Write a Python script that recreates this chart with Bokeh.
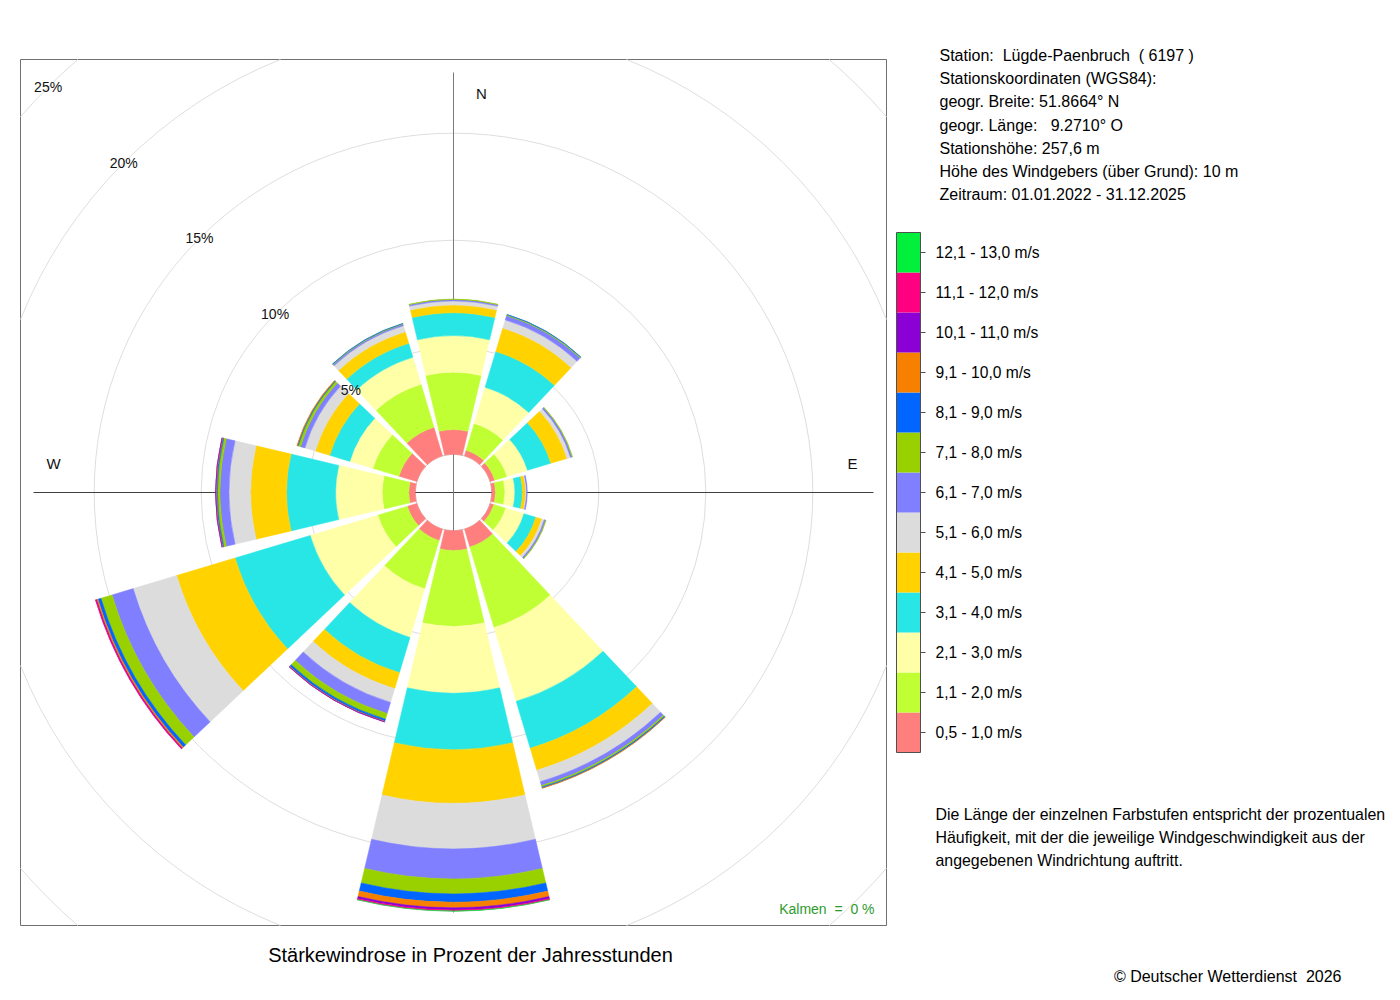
import math
from bokeh.plotting import figure
from bokeh.models import Range1d, ColumnDataSource
from bokeh.core.properties import value
from bokeh.embed import file_html
from bokeh.resources import INLINE

# ---------------- data ----------------
directions = [0, 30, 60, 90, 120, 150, 180, 210, 240, 270, 300, 330]
speed_labels = ["0,5 - 1,0 m/s", "1,1 - 2,0 m/s", "2,1 - 3,0 m/s", "3,1 - 4,0 m/s",
                "4,1 - 5,0 m/s", "5,1 - 6,0 m/s", "6,1 - 7,0 m/s", "7,1 - 8,0 m/s",
                "8,1 - 9,0 m/s", "9,1 - 10,0 m/s", "10,1 - 11,0 m/s", "11,1 - 12,0 m/s",
                "12,1 - 13,0 m/s"]
speed_colors = ["#FF7F7F", "#BFFF33", "#FFFFA8", "#29E6E6", "#FFD200", "#DCDCDC",
                "#7F7FFF", "#99D100", "#0066FF", "#F78000", "#8B00D4", "#FF0080", "#00F03C"]

# percent of hours per direction (0, 30, ..., 330 deg) for each speed class
s_0_5_1_0 = [1.15, 0.27, 0.22, 0.17, 0.18, 0.87, 0.92, 0.55, 0.46, 0.30, 0.87, 1.39]
s_1_1_2_0 = [2.68, 1.31, 0.60, 0.44, 0.58, 3.93, 3.55, 2.36, 1.44, 1.24, 1.27, 2.10]
s_2_1_3_0 = [1.71, 1.76, 1.00, 0.47, 0.89, 3.60, 3.12, 2.37, 3.30, 2.18, 1.13, 1.32]
s_3_1_4_0 = [1.07, 1.75, 1.14, 0.35, 0.58, 2.29, 2.64, 1.72, 3.67, 2.29, 0.98, 0.68]
s_4_1_5_0 = [0.36, 1.14, 0.79, 0.15, 0.29, 1.07, 2.50, 0.78, 2.85, 1.68, 0.70, 0.56]
s_5_1_6_0 = [0.19, 0.40, 0.17, 0.04, 0.12, 0.56, 2.13, 0.67, 2.12, 1.01, 0.51, 0.30]
s_6_1_7_0 = [0.07, 0.21, 0.08, 0.04, 0.07, 0.19, 1.40, 0.54, 1.03, 0.42, 0.21, 0.07]
s_7_1_8_0 = [0.02, 0.05, 0.02, 0.00, 0.02, 0.07, 0.70, 0.28, 0.54, 0.12, 0.12, 0.03]
s_8_1_9_0 = [0.00, 0.01, 0.00, 0.00, 0.00, 0.05, 0.39, 0.10, 0.15, 0.05, 0.04, 0.01]
s_9_1_10_0 = [0.00, 0.00, 0.00, 0.00, 0.00, 0.01, 0.26, 0.03, 0.07, 0.03, 0.02, 0.00]
s_10_1_11_0 = [0.00, 0.00, 0.00, 0.00, 0.00, 0.00, 0.10, 0.01, 0.03, 0.01, 0.00, 0.00]
s_11_1_12_0 = [0.00, 0.00, 0.00, 0.00, 0.00, 0.00, 0.05, 0.00, 0.02, 0.00, 0.00, 0.00]
s_12_1_13_0 = [0.00, 0.00, 0.00, 0.00, 0.00, 0.00, 0.01, 0.00, 0.00, 0.00, 0.00, 0.00]
speed_series = [s_0_5_1_0, s_1_1_2_0, s_2_1_3_0, s_3_1_4_0, s_4_1_5_0, s_5_1_6_0, s_6_1_7_0,
                s_7_1_8_0, s_8_1_9_0, s_9_1_10_0, s_10_1_11_0, s_11_1_12_0, s_12_1_13_0]

ring_values = [5, 10, 15, 20, 25]
compass_labels = ["N", "E", "W"]

NB = "\u00a0"
info_lines = ["Station:" + NB + " Lügde-Paenbruch " + NB + "( 6197 )",
              "Stationskoordinaten (WGS84):",
              "geogr. Breite: 51.8664° N",
              "geogr. Länge:" + NB + NB + " 9.2710° O",
              "Stationshöhe: 257,6 m",
              "Höhe des Windgebers (über Grund): 10 m",
              "Zeitraum: 01.01.2022 - 31.12.2025"]
note_lines = ["Die Länge der einzelnen Farbstufen entspricht der prozentualen",
              "Häufigkeit, mit der die jeweilige Windgeschwindigkeit aus der",
              "angegebenen Windrichtung auftritt."]
title_text = "Stärkewindrose in Prozent der Jahresstunden"
calm_text = "Kalmen" + NB + " =" + NB + " 0 %"
copyright_text = "© Deutscher Wetterdienst" + NB + " 2026"

# ---------------- layout constants ----------------
PX = 21.4            # pixels per percent
CX, CY = 453, 492    # rose centre on the page
R0 = 38.3 / PX       # radius of the calm hole (percent units)
HALF = 13.3          # half angular width of a sector (deg)
FONT = value("Liberation Sans")
W, H = 1392, 992


def ux(px):
    return (px - CX) / PX


def uy(py):
    return (CY - py) / PX


p = figure(width=W, height=H, x_range=Range1d(ux(0), ux(W)),
           y_range=Range1d(uy(H), uy(0)), output_backend="svg",
           toolbar_location=None, x_axis_location=None, y_axis_location=None,
           min_border=0)
p.grid.visible = False
p.outline_line_color = None

# frame
half = 433 / PX
p.rect(x=[0], y=[0], width=[2 * half], height=[2 * half], fill_color=None,
       line_color="#707070", line_width=1)

# grid rings
grid_col = "#DEDEDE"
for v in ring_values:
    R = R0 + v
    if R <= half:
        p.circle(x=[0], y=[0], radius=[R], fill_color=None, line_color=grid_col, line_width=1)
    else:
        a = math.acos(half / R)
        b = math.asin(half / R)
        for q in range(4):
            p.arc(x=[0], y=[0], radius=[R], start_angle=[q * math.pi / 2 + a],
                  end_angle=[q * math.pi / 2 + b], line_color=grid_col, line_width=1)

# hole outline
p.circle(x=[0], y=[0], radius=[R0], fill_color="white", line_color="#C8C8C8", line_width=1)

# cross lines
L = 420 / PX
p.segment(x0=[-L], y0=[0], x1=[L], y1=[0], line_color="#404040", line_width=1)
p.segment(x0=[0], y0=[-L], x1=[0], y1=[L], line_color="#7A7A7A", line_width=1)

# wedges
rows = dict(inner=[], outer=[], start=[], end=[], color=[])
for j, d in enumerate(directions):
    cum = 0.0
    for k, series in enumerate(speed_series):
        val = series[j]
        if val <= 0:
            continue
        rows["inner"].append(R0 + cum)
        cum += val
        rows["outer"].append(R0 + cum)
        m = 90 - d
        rows["start"].append(math.radians(m - HALF))
        rows["end"].append(math.radians(m + HALF))
        rows["color"].append(speed_colors[k])
src = ColumnDataSource(rows)
p.annular_wedge(x=0, y=0, inner_radius="inner", outer_radius="outer",
                start_angle="start", end_angle="end", fill_color="color",
                line_color="color", line_width=0.5, source=src)

# ring labels along 315 deg
lab_r = [R0 + v for v in ring_values]
p.text(x=[-r * math.sqrt(0.5) for r in lab_r], y=[r * math.sqrt(0.5) for r in lab_r],
       text=[f"{v}%" for v in ring_values], text_align="center", text_baseline="middle",
       text_font=FONT, text_font_size="14px", text_color="#111111")

# compass labels
p.text(x=[ux(481), ux(852), ux(53)], y=[uy(93), uy(463), uy(463)], text=compass_labels,
       text_align="center", text_baseline="middle", text_font=FONT,
       text_font_size="15px", text_color="#111111")

# calm
p.text(x=[ux(874)], y=[uy(908)], text=[calm_text], text_align="right",
       text_baseline="middle", text_font=FONT, text_font_size="14px", text_color="#2E9B2E")

# title
p.text(x=[ux(470)], y=[uy(954)], text=[title_text], text_align="center",
       text_baseline="middle", text_font=FONT, text_font_size="20px", text_color="#000000")

# station info
p.text(x=[ux(939)] * len(info_lines), y=[uy(55 + 23.2 * i) for i in range(len(info_lines))],
       text=info_lines, text_align="left", text_baseline="middle", text_font=FONT,
       text_font_size="16px", text_color="#000000")

# explanatory note
p.text(x=[ux(935)] * len(note_lines), y=[uy(814 + 23 * i) for i in range(len(note_lines))],
       text=note_lines, text_align="left", text_baseline="middle", text_font=FONT,
       text_font_size="15.9px", text_color="#000000")

# copyright
p.text(x=[ux(1341)], y=[uy(976)], text=[copyright_text], text_align="right",
       text_baseline="middle", text_font=FONT, text_font_size="16px", text_color="#000000")

# colour legend
n = len(speed_labels)
ys = [uy(732 - 40 * i) for i in range(n)]
p.rect(x=[ux(908)] * n, y=ys, width=[24 / PX] * n, height=[40 / PX] * n,
       fill_color=speed_colors, line_color=None)
p.rect(x=[ux(908)], y=[uy(492)], width=[24 / PX], height=[520 / PX], fill_color=None,
       line_color="#505050", line_width=1)
p.segment(x0=[ux(920)] * n, y0=ys, x1=[ux(925)] * n, y1=ys, line_color="#505050", line_width=1)
p.text(x=[ux(935)] * n, y=ys, text=speed_labels, text_align="left", text_baseline="middle",
       text_font=FONT, text_font_size="15.6px", text_color="#000000")

open("out.html", "w").write(file_html(p, INLINE))
